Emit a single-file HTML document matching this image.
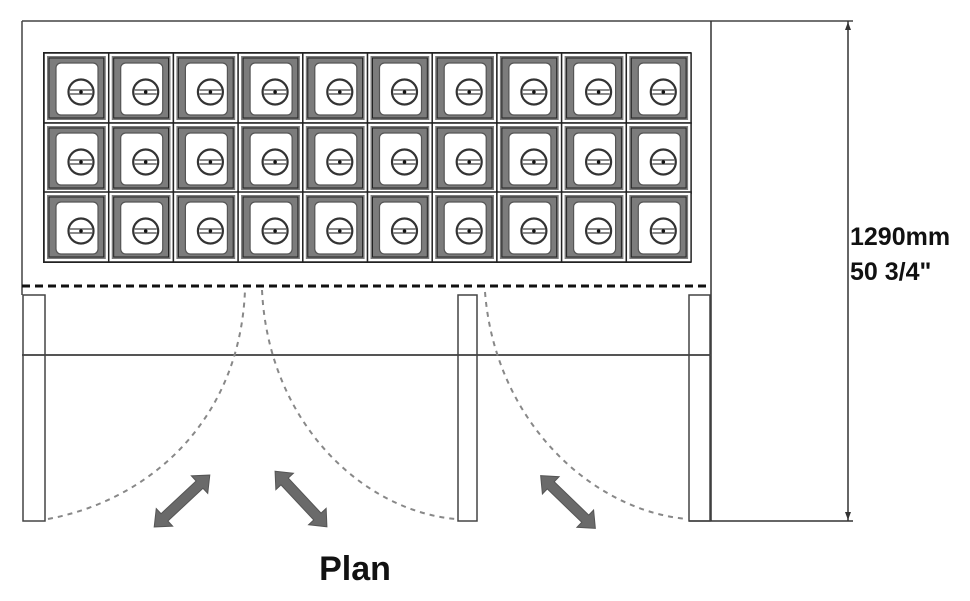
<!DOCTYPE html>
<html><head><meta charset="utf-8"><style>
html,body{margin:0;padding:0;background:#fff;}
svg{display:block;}
</style></head><body>
<svg width="970" height="601" viewBox="0 0 970 601" xmlns="http://www.w3.org/2000/svg">
<defs>
<g id="cell">
  <rect x="0" y="0" width="64.8" height="70" fill="#fff" stroke="#222" stroke-width="1.5"/>
  <rect x="3" y="3" width="58.8" height="64" fill="#7c7c7c"/>
  <rect x="5" y="5" width="54.8" height="60" fill="none" stroke="#222" stroke-width="1"/>
  <rect x="12" y="10" width="42" height="52" rx="5" fill="#fff" stroke="#555" stroke-width="1.2"/>
  <circle cx="37" cy="39" r="12.5" fill="none" stroke="#333" stroke-width="2.2"/>
  <line x1="26" y1="37" x2="48" y2="37" stroke="#444" stroke-width="1.2"/>
  <line x1="26" y1="41" x2="48" y2="41" stroke="#444" stroke-width="1.2"/>
  <circle cx="37" cy="39" r="1.8" fill="#111"/>
</g>
<g id="arrow">
  <polygon points="-38,0 -24,-12 -24,-5 24,-5 24,-12 38,0 24,12 24,5 -24,5 -24,12" fill="#6a6a6a" stroke="#555" stroke-width="1"/>
</g>
</defs>

<line x1="22" y1="21" x2="853" y2="21" stroke="#444" stroke-width="1.5"/>
<line x1="22" y1="21" x2="22" y2="295" stroke="#444" stroke-width="1.5"/>
<line x1="711" y1="21" x2="711" y2="521" stroke="#333" stroke-width="1.5"/>
<line x1="689" y1="521" x2="853" y2="521" stroke="#333" stroke-width="1.5"/>
<line x1="848" y1="21" x2="848" y2="521" stroke="#333" stroke-width="1.5"/>
<polygon points="848,22 845,30 851,30" fill="#333"/>
<polygon points="848,520 845,512 851,512" fill="#333"/>

<rect x="43" y="52" width="648" height="211" fill="#222"/>
<g>
<use href="#cell" x="44" y="53"/><use href="#cell" x="108.7" y="53"/><use href="#cell" x="173.4" y="53"/><use href="#cell" x="238.1" y="53"/><use href="#cell" x="302.8" y="53"/><use href="#cell" x="367.5" y="53"/><use href="#cell" x="432.2" y="53"/><use href="#cell" x="496.9" y="53"/><use href="#cell" x="561.6" y="53"/><use href="#cell" x="626.3" y="53"/>
<use href="#cell" x="44" y="123"/><use href="#cell" x="108.7" y="123"/><use href="#cell" x="173.4" y="123"/><use href="#cell" x="238.1" y="123"/><use href="#cell" x="302.8" y="123"/><use href="#cell" x="367.5" y="123"/><use href="#cell" x="432.2" y="123"/><use href="#cell" x="496.9" y="123"/><use href="#cell" x="561.6" y="123"/><use href="#cell" x="626.3" y="123"/>
<use href="#cell" x="44" y="192"/><use href="#cell" x="108.7" y="192"/><use href="#cell" x="173.4" y="192"/><use href="#cell" x="238.1" y="192"/><use href="#cell" x="302.8" y="192"/><use href="#cell" x="367.5" y="192"/><use href="#cell" x="432.2" y="192"/><use href="#cell" x="496.9" y="192"/><use href="#cell" x="561.6" y="192"/><use href="#cell" x="626.3" y="192"/>
</g>

<line x1="22" y1="286" x2="711" y2="286" stroke="#111" stroke-width="3" stroke-dasharray="8,5"/>
<line x1="22" y1="355" x2="711" y2="355" stroke="#555" stroke-width="2"/>

<rect x="23" y="295" width="22" height="226" fill="none" stroke="#444" stroke-width="1.5"/>
<rect x="458" y="295" width="19" height="226" fill="none" stroke="#444" stroke-width="1.5"/>
<rect x="689" y="295" width="21" height="226" fill="none" stroke="#444" stroke-width="1.5"/>

<g fill="none" stroke="#888" stroke-width="2" stroke-dasharray="5,5">
<path d="M48,519 C150,500 240,420 245,290"/>
<path d="M262,290 C268,420 360,510 455,519"/>
<path d="M485,292 C495,420 590,510 687,519"/>
</g>

<use href="#arrow" transform="translate(182,501) rotate(-43)"/>
<use href="#arrow" transform="translate(301,499) rotate(47)"/>
<use href="#arrow" transform="translate(568,502) rotate(44)"/>

<text x="850" y="245" font-family="Liberation Sans, sans-serif" font-weight="bold" font-size="25" fill="#111">1290mm</text>
<text x="850" y="280" font-family="Liberation Sans, sans-serif" font-weight="bold" font-size="25" fill="#111">50 3/4"</text>
<text x="355" y="580" text-anchor="middle" font-family="Liberation Sans, sans-serif" font-weight="bold" font-size="34" fill="#111">Plan</text>
</svg>
</body></html>
